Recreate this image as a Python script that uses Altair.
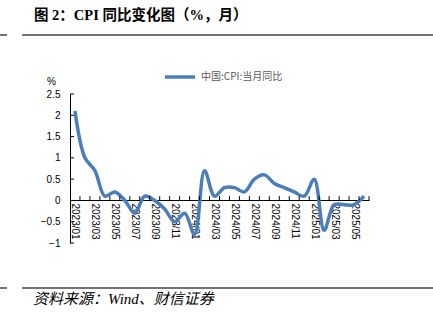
import altair as alt
import pandas as pd

months = ["2023/01","2023/02","2023/03","2023/04","2023/05","2023/06","2023/07","2023/08","2023/09","2023/10","2023/11","2023/12",
          "2024/01","2024/02","2024/03","2024/04","2024/05","2024/06","2024/07","2024/08","2024/09","2024/10","2024/11","2024/12",
          "2025/01","2025/02","2025/03","2025/04","2025/05","2025/06"]
cpi = [2.1, 1.0, 0.7, 0.1, 0.2, 0.0, -0.3, 0.1, 0.0, -0.2, -0.5, -0.3,
       -0.8, 0.7, 0.1, 0.3, 0.3, 0.2, 0.5, 0.6, 0.4, 0.3, 0.2, 0.1,
       0.5, -0.7, -0.1, -0.1, -0.1, 0.1]
series_name = "中国:CPI:当月同比"
y_ticks = [-1, -0.5, 0, 0.5, 1, 1.5, 2, 2.5]

df = pd.DataFrame({"idx": list(range(len(months))), "month": months, "cpi": cpi, "series": series_name})
ticks_df = pd.DataFrame({"pos": [i + 0.5 for i in range(len(months))]})
yticks_df = pd.DataFrame({"v": y_ticks})

label_arr = "[" + ",".join("'" + m + "'" for m in months) + "]"

W, H = 299, 149
xmin, xmax = -0.5, len(months) - 0.5
xscale = alt.Scale(domain=[xmin, xmax], nice=False, zero=False)
yscale = alt.Scale(domain=[-1, 2.5], nice=False, zero=False)
zero_off = -round(H * 1 / 3.5)

xaxis = alt.Axis(values=list(range(0, len(months), 2)), labelExpr=label_arr + "[datum.value]",
                 labelAngle=90, labelAlign="left", labelBaseline="middle", labelPadding=3,
                 ticks=False, grid=False, domainColor="#000000", domainWidth=1,
                 labelFont="Liberation Sans", labelFontSize=10, labelColor="#000000",
                 offset=zero_off, title=None, labelOverlap=False, labelFlush=False)
yaxis = alt.Axis(values=y_ticks, format="~g", grid=False, ticks=False,
                 domainColor="#000000", labelFont="Liberation Sans", labelFontSize=10,
                 labelColor="#000000", labelPadding=10, labelOverlap=False, labelFlush=False,
                 title="%", titleAngle=0, titleX=-19, titleY=-8, titleAlign="center",
                 titleBaseline="bottom", titleFont="Liberation Sans", titleFontSize=10,
                 titleFontWeight="normal", titleColor="#000000")

line = alt.Chart(df).mark_line(interpolate="catmull-rom", strokeWidth=3.5).encode(
    x=alt.X("idx:Q", scale=xscale, axis=xaxis),
    y=alt.Y("cpi:Q", scale=yscale, axis=yaxis),
    color=alt.Color("series:N", scale=alt.Scale(domain=[series_name], range=["#4a7ebb"]),
                    legend=alt.Legend(orient="none", legendX=93, legendY=-34, title=None,
                                      symbolType="stroke", symbolStrokeWidth=3.5, symbolSize=900,
                                      labelFont="Noto Sans CJK SC", labelFontSize=10, labelColor="#595959",
                                      labelOffset=4)),
)

tick_marks = alt.Chart(ticks_df).mark_rule(color="#000000", strokeWidth=1).encode(
    x=alt.X("pos:Q", scale=xscale, axis=xaxis),
    y=alt.datum(0, scale=yscale, axis=yaxis),
    y2=alt.datum(0.1),
)

ytick_marks = alt.Chart(yticks_df).mark_rule(color="#000000", strokeWidth=1).encode(
    y=alt.Y("v:Q", scale=yscale, axis=yaxis),
    x=alt.datum(xmin, scale=xscale, axis=xaxis),
    x2=alt.datum(xmin + 0.4),
)

title = alt.Chart(pd.DataFrame({"t": ["图 2：CPI 同比变化图（%，月）"]})).mark_text(
    align="left", baseline="middle", font="Liberation Serif, Noto Sans CJK SC", fontSize=14.5,
    fontWeight="bold", color="#000000").encode(x=alt.value(-36), y=alt.value(-78), text="t:N")

source = alt.Chart(pd.DataFrame({"t": ["资料来源：Wind、财信证券"]})).mark_text(
    align="left", baseline="middle", font="Liberation Serif, Noto Sans CJK SC", fontSize=15,
    fontStyle="italic", color="#000000").encode(x=alt.value(-37), y=alt.value(205), text="t:N")

def hrule(yv, x1, x2):
    return alt.Chart(pd.DataFrame({"a": [0]})).mark_rule(color="#444444", strokeWidth=1.5).encode(
        x=alt.value(x1), x2=alt.value(x2), y=alt.value(yv))

rules = [hrule(-59, -70, -63), hrule(-59, -48, 363), hrule(194, -70, -63), hrule(194, -48, 363)]

chart = alt.layer(line, tick_marks, ytick_marks, title, source, *rules).properties(
    width=W, height=H,
    autosize=alt.AutoSizeParams(type="none"),
    padding={"left": 70, "top": 94, "right": 64, "bottom": 81},
    background="#ffffff",
).configure_view(stroke=None).configure_axis(labelOverlap=False)

chart.save("out.html", embed_options={"renderer": "svg", "actions": False})
